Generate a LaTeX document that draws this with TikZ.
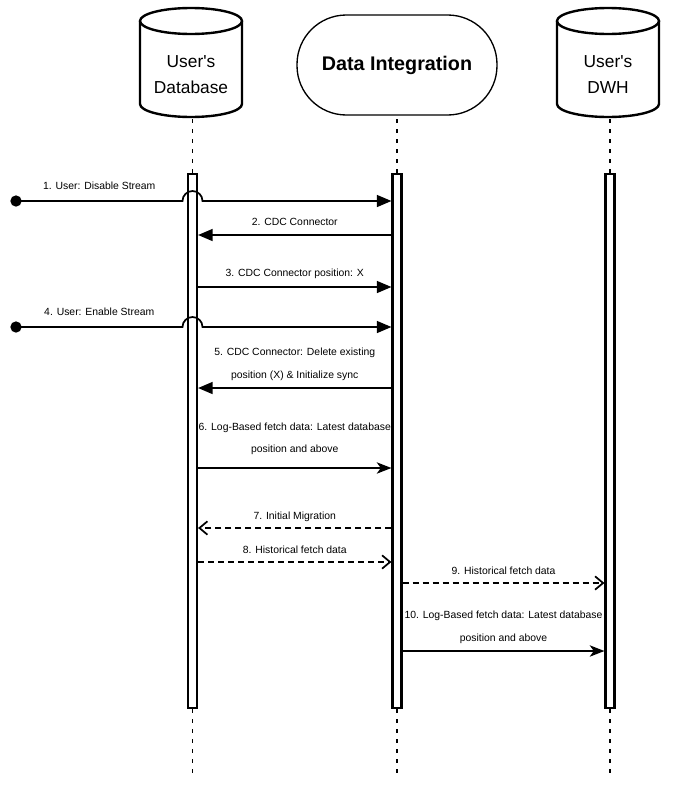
\documentclass[tikz,border=0pt]{standalone}
\usepackage{fontspec}
\setmainfont{Liberation Sans}
\usepackage{tikz}
\usetikzlibrary{arrows.meta}

\newcommand{\lblfont}{\fontsize{7.8}{17}\selectfont}

\begin{document}
\begin{tikzpicture}[x=0.75pt, y=0.75pt,
  cyl/.style={draw, line width=1.8pt},
  hdr/.style={align=center, font=\fontsize{13}{19.5}\selectfont},
  lifeline/.style={line width=1.3pt, dash pattern=on 3pt off 4.5pt},
  actbar/.style={draw, fill=white, line width=1.6pt, minimum width=6.75pt, minimum height=400.5pt, inner sep=0pt},
  userdot/.style={fill, circle, inner sep=0pt, minimum size=8.5pt},
  msg/.style={line width=1.3pt, -{Triangle[length=11pt,width=9pt]}},
  fetch/.style={line width=1.3pt, -{Stealth[length=11pt,width=8.5pt,inset=3pt]}},
  reply/.style={line width=1.3pt, dash pattern=on 4.5pt off 3pt, -{Straight Barb[length=6pt,width=10pt]}},
  lbl/.style={font=\lblfont, align=center, inner sep=0pt}]
  \useasboundingbox (0,0) rectangle (673,-789);

  \foreach \cx in {191,608}{
    \draw[cyl] (\cx-51,-21) -- (\cx-51,-104) arc[start angle=180, end angle=360, x radius=51, y radius=13] -- (\cx+51,-21);
    \draw[cyl] (\cx,-21) ellipse[x radius=51, y radius=13];
  }
  \node[hdr] (db) at (191,-75) {User\textquotesingle s\\Database};
  \node[hdr] (dwh) at (608,-75) {User\textquotesingle s\\DWH};
  \node[draw, line width=1pt, rounded corners=37pt, minimum width=150pt, minimum height=75pt,
        font=\bfseries\fontsize{14.8}{18}\selectfont] (di) at (397,-65) {Data Integration};

  \node[actbar] (dbbar) at (192.5,-441) {};
  \node[actbar] (dibar) at (397,-441) {};
  \node[actbar] (dwhbar) at (610,-441) {};

  \draw[lifeline] (dbbar.north) -- ++(0,57);
  \draw[lifeline] (dbbar.south) -- ++(0,-69);
  \draw[lifeline] (dibar.north) -- ++(0,54);
  \draw[lifeline] (dibar.south) -- ++(0,-69);
  \draw[lifeline] (dwhbar.north) -- ++(0,57);
  \draw[lifeline] (dwhbar.south) -- ++(0,-69);

  \foreach \n/\y in {1/201,2/235,3/287,4/327,5/388,6/468,7/528,8/562,9/583,10/651}
    \coordinate (m\n) at (0,-\y);

  \node[userdot] (u1) at (16,-201) {};
  \node[userdot] (u4) at (16,-327) {};

  \draw[msg] (u1.center) -- node[lbl, yshift=11.25pt] {1. User: Disable Stream} (182.5,-201)
    arc[start angle=180, end angle=0, radius=10] -- (dibar.west |- m1);
  \draw[msg] (dibar.west |- m2) -- node[lbl, yshift=9.75pt] {2. CDC Connector} (dbbar.east |- m2);
  \draw[msg] (dbbar.east |- m3) -- node[lbl, yshift=9.75pt] {3. CDC Connector position: X} (dibar.west |- m3);
  \draw[msg] (u4.center) -- node[lbl, yshift=11.25pt] {4. User: Enable Stream} (182.5,-327)
    arc[start angle=180, end angle=0, radius=10] -- (dibar.west |- m4);
  \draw[msg] (dibar.west |- m5) -- node[lbl, yshift=18pt] {5. CDC Connector: Delete existing\\position (X) \& Initialize sync} (dbbar.east |- m5);
  \draw[fetch] (dbbar.east |- m6) -- node[lbl, yshift=22pt] {6. Log-Based fetch data: Latest database\\position and above} (dibar.west |- m6);
  \draw[reply] (dibar.west |- m7) -- node[lbl, yshift=8.25pt] {7. Initial Migration} (dbbar.east |- m7);
  \draw[reply] (dbbar.east |- m8) -- node[lbl, yshift=9pt] {8. Historical fetch data} (dibar.west |- m8);
  \draw[reply] (dibar.east |- m9) -- node[lbl, yshift=9pt] {9. Historical fetch data} (dwhbar.west |- m9);
  \draw[fetch] (dibar.east |- m10) -- node[lbl, yshift=18pt] {10. Log-Based fetch data: Latest database\\position and above} (dwhbar.west |- m10);
\end{tikzpicture}
\end{document}
